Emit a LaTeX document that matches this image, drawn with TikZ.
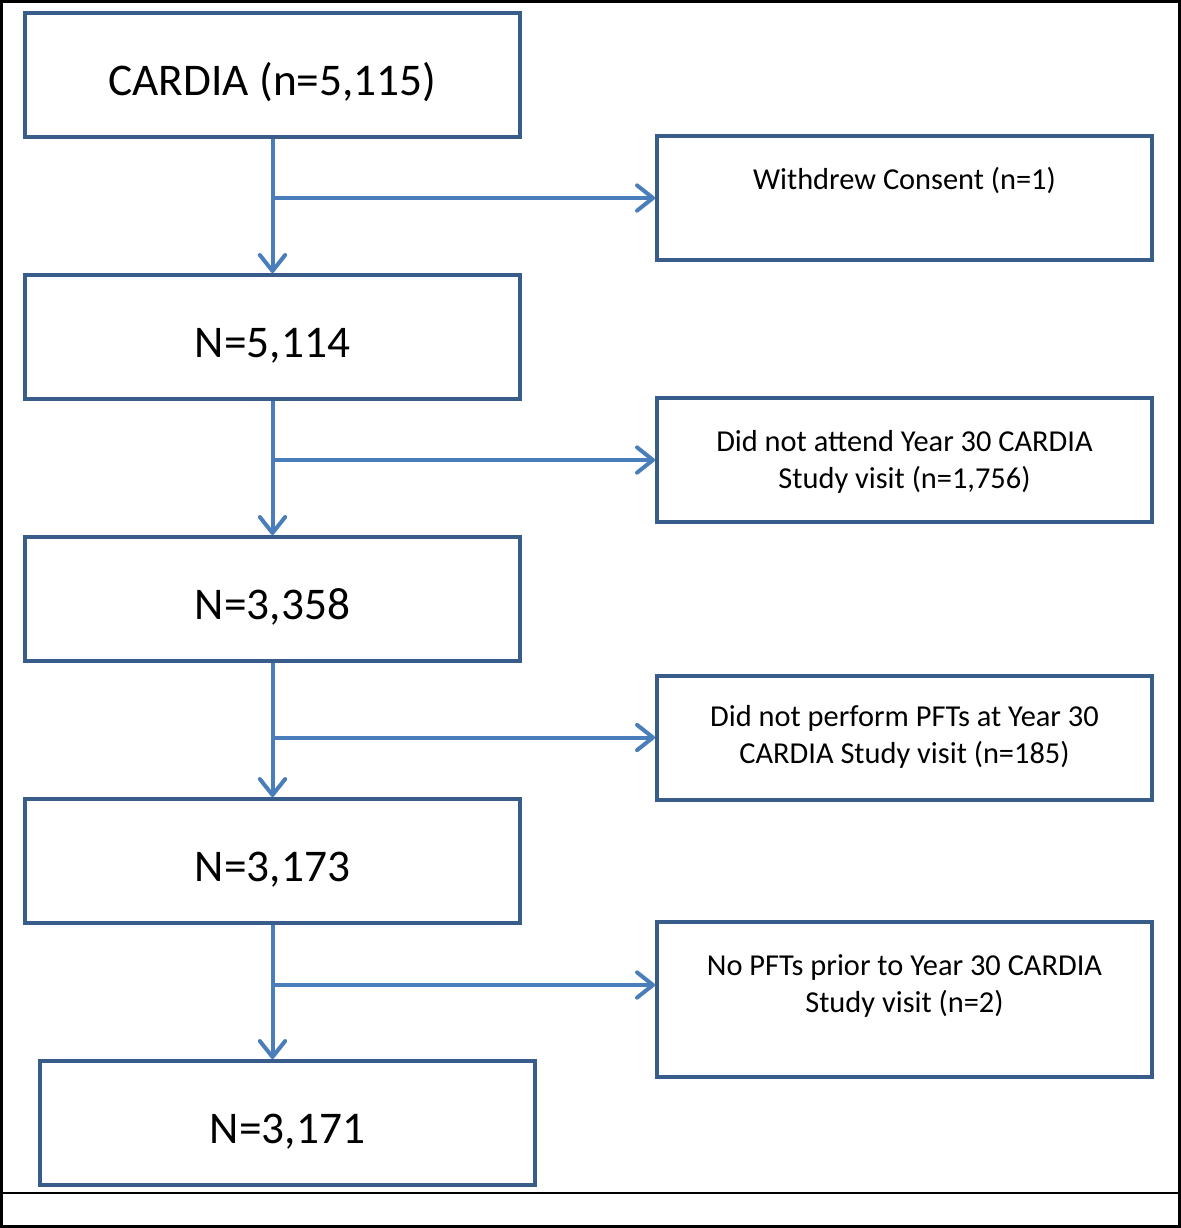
\documentclass[tikz,border=0pt]{standalone}
\usepackage{fontspec}
\setmainfont{Carlito}
\usepackage{tikz}
\usetikzlibrary{arrows.meta}
\definecolor{boxblue}{RGB}{56,93,138}
\definecolor{flowblue}{RGB}{74,126,187}

\begin{document}
\begin{tikzpicture}[x=0.75pt,y=0.75pt,yscale=-1,xscale=1,
    mainbox/.style={draw=boxblue, line width=3pt, minimum width=371.25pt, minimum height=93pt, inner sep=0pt,
        font=\fontsize{34}{41}\selectfont, text height=31pt, text depth=1pt},
    sidebox/.style={draw=boxblue, line width=3pt, minimum width=371.25pt, minimum height=93pt, inner sep=0pt},
    sidetext/.style={align=center, inner sep=0pt, font=\fontsize{22.8}{27.75}\selectfont},
    flow/.style={draw=flowblue, line width=3pt, -{Straight Barb[length=12pt,width=19pt,round]}}]
    \useasboundingbox (0,0) rectangle (1181,1228);
    
    %outer frame
    \draw [line width=2pt] (1.5,1.5) rectangle (1179.5,1226.5) ;
    \draw [line width=1.5pt] (1.5,1193) -- (1179.5,1193) ;
    
    %main column
    \node [mainbox] (c1) at (272.5,75) {CARDIA (n=5,115)};
    \node [mainbox] (c2) at (272.5,337) {N=5,114};
    \node [mainbox] (c3) at (272.5,599) {N=3,358};
    \node [mainbox] (c4) at (272.5,861) {N=3,173};
    \node [mainbox] (c5) at (287.5,1123) {N=3,171};
    
    %exclusions
    \node [sidebox] (r1) at (904.5,198) {};
    \node [sidebox] (r2) at (904.5,460) {};
    \node [sidebox] (r3) at (904.5,737.5) {};
    \node [sidebox, minimum height=116.25pt] (r4) at (904.5,999.5) {};
    \node [sidetext] (t1) at (904.5,180) {Withdrew Consent (n=1)};
    \node [sidetext] (t2) at (904.5,461.5) {Did not attend Year 30 CARDIA\\Study visit (n=1,756)};
    \node [sidetext] (t3) at (904.5,736.5) {Did not perform PFTs at Year 30\\CARDIA Study visit (n=185)};
    \node [sidetext] (t4) at (904.5,985.5) {No PFTs prior to Year 30 CARDIA\\Study visit (n=2)};
    
    %branch points
    \coordinate (j1) at (272.5,198);
    \coordinate (j2) at (272.5,460);
    \coordinate (j3) at (272.5,737.5);
    \coordinate (j4) at (272.5,985);
    
    \draw [flow] (c1) -- (c2) ;
    \draw [flow] (c2) -- (c3) ;
    \draw [flow] (c3) -- (c4) ;
    \draw [flow] (c4.south) -- (c4.south |- c5.north) ;
    \draw [flow] (j1) -- (r1) ;
    \draw [flow] (j2) -- (r2) ;
    \draw [flow] (j3) -- (r3) ;
    \draw [flow] (j4) -- (j4 -| r4.west) ;
    
\end{tikzpicture}
\end{document}
